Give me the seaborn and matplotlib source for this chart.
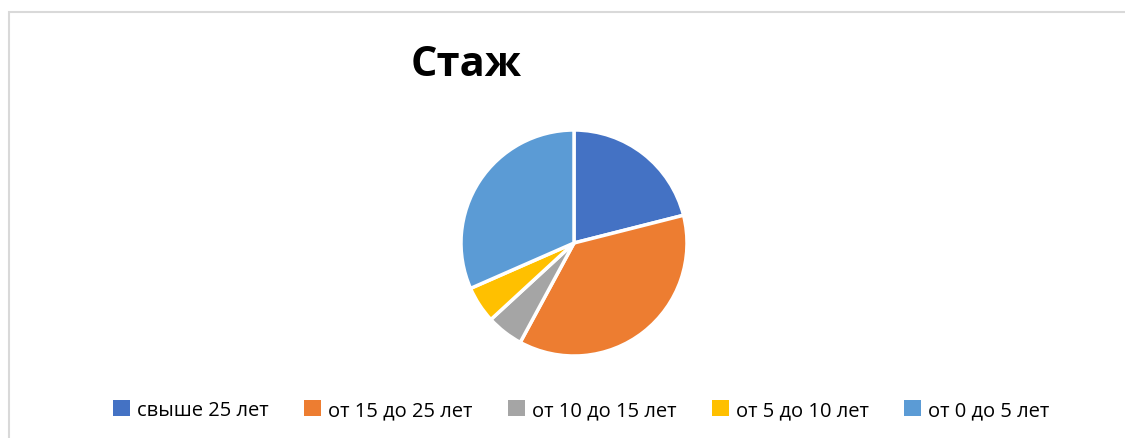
import matplotlib
matplotlib.use("Agg")
import matplotlib.pyplot as plt
import seaborn as sns
from matplotlib.patches import Rectangle, Patch

# data
categories = ['свыше 25 лет', 'от 15 до 25 лет', 'от 10 до 15 лет', 'от 5 до 10 лет', 'от 0 до 5 лет']
counts = [8, 14, 2, 2, 12]
colors = ['#4472C4', '#ED7D31', '#A5A5A5', '#FFC000', '#5B9BD5']

sns.set_theme(style="white")
plt.rcParams['font.family'] = ['Open Sans', 'DejaVu Sans']
plt.rcParams['text.color'] = 'black'

W, H = 1125, 439
fig = plt.figure(figsize=(W / 100, H / 100), dpi=100)

# chart border (Excel style)
fig.patches.append(Rectangle((9 / W, -0.1), 1.2, 1 - 13 / H + 0.1, transform=fig.transFigure,
                             fill=False, edgecolor='#d9d9d9', linewidth=1.5))

cx, cy, r = 574, 244, 113
ax = fig.add_axes([(cx - r) / W, (H - cy - r) / H, 2 * r / W, 2 * r / H])
ax.pie(counts, colors=colors, startangle=90, counterclock=False,
       wedgeprops=dict(edgecolor='white', linewidth=2.5))
ax.set_xlim(-1.0, 1.0)
ax.set_ylim(-1.0, 1.0)
ax.axis('off')

fig.text(466 / W, 1 - 66 / H, 'Стаж', ha='center', va='center', fontsize=30,
         fontweight='bold', color='black')

handles = [Patch(facecolor=c, edgecolor='none') for c in colors]
fig.legend(handles, categories, loc='center', bbox_to_anchor=(581 / W, 1 - 411 / H), ncol=5,
           frameon=False, fontsize=14.5, handlelength=0.85, handleheight=0.85,
           handletextpad=0.35, columnspacing=1.75, labelcolor='black')

fig.savefig('out.png', dpi=100)
